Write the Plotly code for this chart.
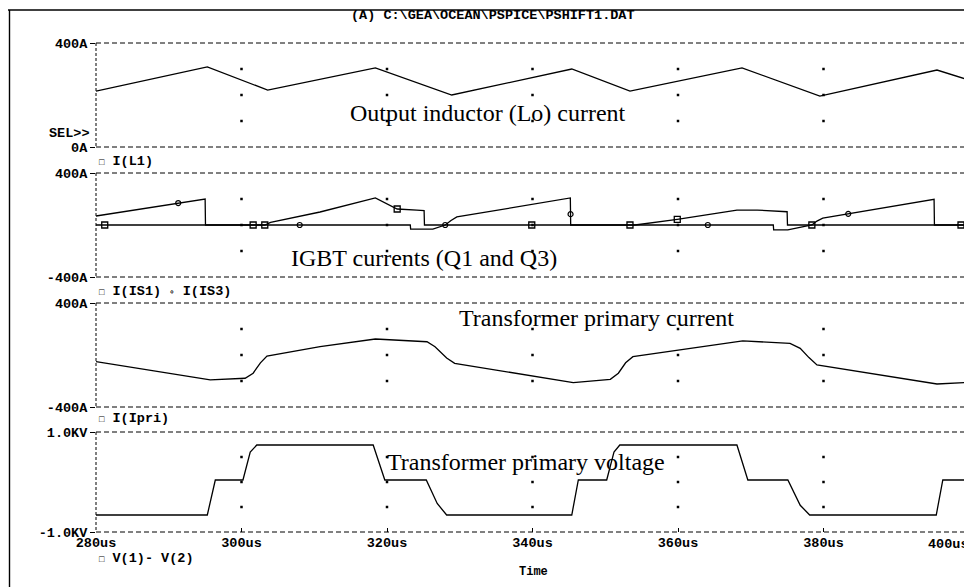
import numpy as np
import plotly.graph_objects as go

W, H = 964, 587

# ---------------- data ----------------
# time axis (us)
t_ticks = [280, 300, 320, 340, 360, 380]
t_ticktext = ["280us", "300us", "320us", "340us", "360us", "380us"]

# Output inductor current I(L1) [A]
t_L1 = [280, 295.3, 303.6, 318.4, 328.9, 345.4, 353.4, 368.8, 379.5, 395.6, 400.5]
i_L1 = [215, 308, 219, 304, 200, 300, 215, 304, 196, 296, 253]

# IGBT current I(IS1) [A]
t_IS1 = [280, 303.2, 304.0, 310.8, 318.4, 321.4, 324.1, 325.1, 325.15, 354.1, 359.9, 368.1, 370.9, 375.0, 375.05, 400.5]
i_IS1 = [0, 0, 20, 100, 208, 123, 115, 110, 0, 0, 44, 115, 115, 102, 0, 0]
# IGBT current I(IS3) [A]
t_IS3 = [280, 291.3, 295.0, 295.05, 323.2, 323.25, 326.3, 328.0, 328.8, 329.6, 345.2, 345.25,
         373.1, 373.15, 375.1, 378.4, 379.1, 379.9, 395.2, 395.25, 400.5]
i_IS3 = [69, 169, 200, 0, 0, -31, -31, 0, 35, 62, 208, 0,
         0, -38, -38, 0, 30, 53, 197, 0, 0]
# marker sample times
mk_IS1 = [281.2, 301.6, 303.2, 321.4, 339.9, 353.4, 359.9, 378.4, 398.9]
mk_IS3 = [291.3, 308.0, 328.0, 345.23, 364.1, 383.4]

# Transformer primary current I(Ipri) [A]
t_Ipri = [280, 295.7, 300.5, 301.6, 302.6, 303.5, 310.8, 318.4, 325.5, 326.6, 328.2, 329.3,
          345.6, 350.7, 351.8, 352.8, 353.8, 368.9, 375.4, 376.8, 378.0, 379.1, 395.6, 400.5]
i_Ipri = [-51, -192, -179, -140, -60, -8, 64, 123, 102, 64, -23, -64,
          -213, -187, -140, -60, -13, 108, 90, 51, -20, -77, -223, -210]

# Transformer primary voltage V(1)-V(2) [V]
t_V = [280, 295.3, 296.4, 300.2, 301.2, 302.1, 318.1, 319.7, 325.4, 326.9, 328.2,
       345.4, 346.3, 350.2, 351.2, 352.0, 368.1, 369.6, 375.1, 376.8, 378.1,
       395.5, 396.4, 400.5]
v_V = [-660, -660, 40, 40, 600, 740, 740, 40, 40, -430, -660,
       -660, 40, 40, 600, 740, 740, 40, 40, -465, -660,
       -660, 40, 40]

# ---------------- layout helpers ----------------
def px(x):
    return x / W

def py(y):
    return 1 - y / H

X0 = 96
t_end = 280 + (W - X0) / 145.5 * 20
panels = [(43, 147), (173, 277), (303, 407), (432, 532)]
yranges = [[0, 400], [-400, 400], [-400, 400], [-1000, 1000]]
ytext = [["0A", "400A"], ["-400A", "400A"], ["-400A", "400A"], ["-1.0KV", "1.0KV"]]

MONO = "Liberation Mono, Courier New, monospace"
SERIF = "Liberation Serif, Times New Roman, serif"
mono_font = dict(family=MONO, size=13.5, color="black", weight="bold")

fig = go.Figure()
line = dict(color="black", width=1.3)

ynames = ["y", "y2", "y3", "y4"]

fig.add_trace(go.Scatter(x=t_L1, y=i_L1, mode="lines", line=line, xaxis="x", yaxis="y"))
fig.add_trace(go.Scatter(x=t_IS1, y=i_IS1, mode="lines", line=line, xaxis="x", yaxis="y2"))
fig.add_trace(go.Scatter(x=t_IS3, y=i_IS3, mode="lines", line=line, xaxis="x", yaxis="y2"))
fig.add_trace(go.Scatter(x=mk_IS1, y=np.interp(mk_IS1, t_IS1, i_IS1), mode="markers",
                         marker=dict(symbol="square-open", size=6, color="black", line=dict(width=1.3)),
                         xaxis="x", yaxis="y2"))
fig.add_trace(go.Scatter(x=mk_IS3, y=np.interp(mk_IS3, t_IS3, i_IS3), mode="markers",
                         marker=dict(symbol="circle-open", size=5, color="black", line=dict(width=1.2)),
                         xaxis="x", yaxis="y2"))
fig.add_trace(go.Scatter(x=t_Ipri, y=i_Ipri, mode="lines", line=line, xaxis="x", yaxis="y3"))
fig.add_trace(go.Scatter(x=t_V, y=v_V, mode="lines", line=line, xaxis="x", yaxis="y4"))

# grid dots at tick intersections
inner_t = t_ticks[1:]
for k, (rng, yn) in enumerate(zip(yranges, ynames)):
    lo, hi = rng
    qs = [lo + (hi - lo) * f for f in (0.25, 0.5, 0.75)]
    gx = [t for t in inner_t for _ in qs]
    gy = [q for _ in inner_t for q in qs]
    fig.add_trace(go.Scatter(x=gx, y=gy, mode="markers",
                             marker=dict(symbol="square", size=2.5, color="black"),
                             xaxis="x", yaxis=yn))

layout = dict(
    width=W, height=H,
    margin=dict(l=0, r=0, t=0, b=0),
    paper_bgcolor="white", plot_bgcolor="white",
    showlegend=False,
    xaxis=dict(domain=[px(X0), 1], range=[280, t_end], anchor="y4",
               tickvals=t_ticks, ticktext=t_ticktext, ticks="inside", ticklen=4,
               tickcolor="black", showgrid=False, zeroline=False, showline=False,
               tickfont=mono_font, automargin=False),
)
for k, ((top, bot), rng, tt) in enumerate(zip(panels, yranges, ytext)):
    name = "yaxis" if k == 0 else f"yaxis{k+1}"
    layout[name] = dict(domain=[py(bot), py(top)], range=rng, anchor="x",
                        tickvals=rng, ticktext=tt, ticks="outside", ticklen=5,
                        tickcolor="black", showgrid=False, zeroline=False, showline=False,
                        tickfont=mono_font, automargin=False)
fig.update_layout(**layout)

shapes = []
dash_h = "5px,3px"
for top, bot in panels:
    for yy in (top, bot):
        shapes.append(dict(type="line", xref="paper", yref="paper", x0=px(X0), x1=1,
                           y0=py(yy), y1=py(yy), line=dict(color="black", width=1, dash=dash_h)))
    shapes.append(dict(type="line", xref="paper", yref="paper", x0=px(X0), x1=px(X0),
                       y0=py(top), y1=py(bot), line=dict(color="black", width=1, dash="3px,2px")))
# page border
shapes.append(dict(type="line", xref="paper", yref="paper", x0=px(8), x1=1, y0=py(10), y1=py(10),
                   line=dict(color="black", width=1.6)))
shapes.append(dict(type="line", xref="paper", yref="paper", x0=px(9.5), x1=px(9.5), y0=py(10), y1=0,
                   line=dict(color="black", width=1.4)))
fig.update_layout(shapes=shapes)

box = "<span style='font-size:9px'>□</span>"
circ = "<span style='font-size:9px'>∘</span>"
ann = []
def A(text, x, y, xanchor="left", font=None):
    ann.append(dict(text=text, x=px(x), y=py(y), xref="paper", yref="paper", xanchor=xanchor,
                    yanchor="middle", showarrow=False, font=font or mono_font))

A("(A) C:\\GEA\\OCEAN\\PSPICE\\PSHIFT1.DAT", 493, 15, "center")
A("SEL>>", 92, 134, "right")
A(box + " I(L1)", 97, 161)
A(box + " I(IS1) " + circ + " I(IS3)", 97, 292)
A(box + " I(Ipri)", 97, 418)
A(box + " V(1)- V(2)", 97, 558)
A("400us", 926, 544, "left")
A("Time", 533, 572, "center", dict(family=MONO, size=12, color="black", weight="bold"))

serif = dict(family=SERIF, size=24, color="black")
A("Output inductor (Lo) current", 488, 113, "center", serif)
A("IGBT currents (Q1 and Q3)", 424, 258, "center", serif)
A("Transformer primary current", 596, 318, "center", serif)
A("Transformer primary voltage", 526, 462, "center", serif)
fig.update_layout(annotations=ann)

fig.write_html("out.html", config={"displayModeBar": False},
               post_script="document.body.style.margin='0';")
